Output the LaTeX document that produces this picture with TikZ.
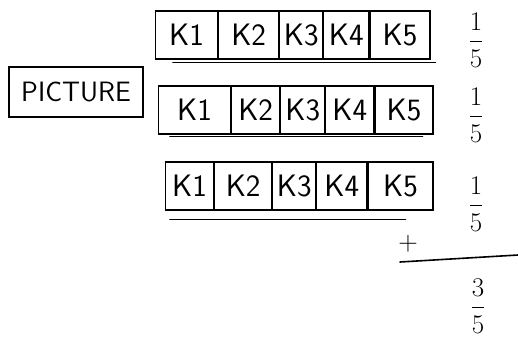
\RequirePackage{fix-cm}
\documentclass[tikz,border=0pt]{standalone}
\usepackage{amsmath}
\usetikzlibrary{positioning}
\tikzset{
  cellbox/.style={draw,line width=1.1pt,minimum width=#1,minimum height=48pt,inner sep=0pt,
    font=\sffamily\fontsize{31}{33}\selectfont},
  cellbox/.default=54pt,
  titlebox/.style={draw,line width=1.4pt,minimum width=134pt,minimum height=50pt,inner sep=2pt,
    font=\sffamily\fontsize{28}{30}\selectfont},
  fracnode/.style={font=\fontsize{27}{29}\selectfont},
  uline/.style={line width=1.6pt,line cap=round},
}
\begin{document}
\begin{tikzpicture}[x=1pt,y=-1pt]
  \useasboundingbox (0,0) rectangle (518,343);
  \node[titlebox] (pic) at (76,92) {PICTURE};
  % first row
  \node[cellbox=62pt,anchor=west] (a1) at (155,35) {K1};
  \node[cellbox=60pt,right=0pt of a1] (a2) {K2};
  \node[cellbox=43pt,right=0pt of a2] (a3) {K3};
  \node[cellbox=45pt,right=0pt of a3] (a4) {K4};
  \node[cellbox=60pt,right=0pt of a4] (a5) {K5};
  % second row
  \node[cellbox=72pt,anchor=west] (b1) at (158,110) {K1};
  \node[cellbox=48pt,right=0pt of b1] (b2) {K2};
  \node[cellbox=44pt,right=0pt of b2] (b3) {K3};
  \node[cellbox=48pt,right=0pt of b3] (b4) {K4};
  \node[cellbox=58pt,right=0pt of b4] (b5) {K5};
  % third row
  \node[cellbox=48pt,anchor=west] (c1) at (165,186) {K1};
  \node[cellbox=57pt,right=0pt of c1] (c2) {K2};
  \node[cellbox=43pt,right=0pt of c2] (c3) {K3};
  \node[cellbox=50pt,right=0pt of c3] (c4) {K4};
  \node[cellbox=65pt,right=0pt of c4] (c5) {K5};
  % underlines
  \draw[uline] ([xshift=18pt,yshift=-3pt]a1.south west) -- ([xshift=5pt,yshift=-3pt]a5.south east);
  \draw[uline] ([xshift=12pt,yshift=-2pt]b1.south west) -- ([xshift=-11pt,yshift=-2pt]b5.south east);
  \draw[uline] ([xshift=5pt,yshift=-9pt]c1.south west) -- ([xshift=-28pt,yshift=-9pt]c5.south east);
  % fractions
  \node[fracnode] (f1) at (476,40) {$\dfrac{1}{5}$};
  \node[fracnode] (f2) at (476,115) {$\dfrac{1}{5}$};
  \node[fracnode] (f3) at (476,204) {$\dfrac{1}{5}$};
  \node[fracnode] (plus) at (408,244) {$+$};
  \coordinate (sl) at (400,262);
  \coordinate (sr) at (518,255);
  \draw[uline] (sl) -- (sr);
  \node[fracnode] (tot) at (478,306) {$\dfrac{3}{5}$};
\end{tikzpicture}
\end{document}
